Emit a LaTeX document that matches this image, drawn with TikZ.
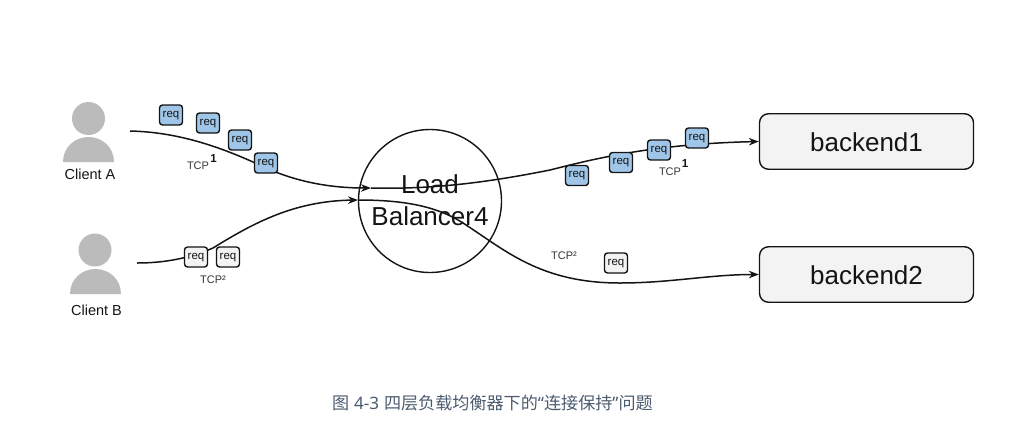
\documentclass[tikz,border=0pt]{standalone}
\usepackage{fontspec}
\setmainfont{Liberation Sans}
\newfontfamily\cjk{Noto Sans CJK SC}
\newfontfamily\capl{Noto Sans}
\usetikzlibrary{arrows.meta}
\definecolor{reqblue}{HTML}{9FC5E8}
\definecolor{boxgray}{HTML}{F3F3F3}
\definecolor{person}{HTML}{BBBBBB}
\definecolor{ink}{HTML}{141414}
\definecolor{capcol}{HTML}{4C5B70}
\tikzset{
 reqbox/.style={draw=ink,line width=1.4pt,rounded corners=3pt,minimum width=23pt,minimum height=20pt,inner sep=0pt,text height=6.5pt,text depth=2.5pt,font=\fontsize{11.5}{12}\selectfont,text=ink},
 reqa/.style={reqbox,fill=reqblue},
 reqb/.style={reqbox,fill=boxgray},
 backend/.style={draw=ink,line width=1.4pt,fill=boxgray,rounded corners=9pt,minimum width=214pt,minimum height=55.5pt,inner sep=0pt,text height=19pt,text depth=0pt,font=\fontsize{26}{28}\selectfont,text=ink},
 label/.style={inner sep=0pt,text=ink,font=\fontsize{14.5}{16}\selectfont},
 tcp/.style={inner sep=0pt,text=ink!85,font=\fontsize{11}{13}\selectfont},
 link/.style={draw=ink,line width=1.5pt,-{Stealth[length=10pt,width=7.5pt]}},
}
\begin{document}
\begin{tikzpicture}[x=1pt,y=-1pt]
\useasboundingbox (0,0) rectangle (1024,424);
% clients
\fill[person] (88.5,118.5) circle (16.5);
\fill[person] (63,162) .. controls (63,147) and (75,137) .. (88.5,137) .. controls (102,137) and (114,147) .. (114,162) -- cycle;
\node[label] (ca) at (90,174) {Client A};
\fill[person] (95,250) circle (16.5);
\fill[person] (70,294) .. controls (70,279) and (82,269) .. (95.5,269) .. controls (109,269) and (121,279) .. (121,294) -- cycle;
\node[label] (cb) at (96.5,310.5) {Client B};
% balancer and backends
\node[draw=ink,line width=1.4pt,circle,minimum size=143pt,inner sep=0pt] (lb) at (430,201) {};
\node[inner sep=0pt,font=\fontsize{26}{28}\selectfont,text=ink] (lbt1) at (430,184.5) {Load};
\node[inner sep=0pt,font=\fontsize{26}{28}\selectfont,text=ink] (lbt2) at (430,216.5) {Balancer4};
\node[backend] (b1) at (866.5,141.5) {backend1};
\node[backend] (b2) at (866.5,274.5) {backend2};
% connector ends
\coordinate (aout) at (130,131);
\coordinate (bout) at (137,263);
\coordinate (lba) at (371,188);
\coordinate (lbb) at (358,200);
% connectors
\draw[link] (aout) .. controls (175,132) and (215,145) .. (253,162) .. controls (285,178) and (320,188) .. (lba);
\draw[link] (bout) .. controls (165,263) and (190,258) .. (213,248) .. controls (255,222) and (295,201) .. (lbb);
\draw[link] (lba) .. controls (420,189) and (470,186) .. (550,170) .. controls (590,160) and (650,144) .. (b1.west);
\draw[link] (lbb) .. controls (400,200) and (435,205) .. (463,223) .. controls (505,250) and (540,283) .. (620,283) .. controls (670,283) and (710,274.5) .. (b2.west);
% requests
\node[reqa] (r1) at (171,115) {req};
\node[reqa] (r2) at (208,123) {req};
\node[reqa] (r3) at (240,140) {req};
\node[reqa] (r4) at (266,163) {req};
\node[reqb] (g1) at (196,257) {req};
\node[reqb] (g2) at (228,257) {req};
\node[reqa] (r5) at (577,175.5) {req};
\node[reqa] (r6) at (621,162.5) {req};
\node[reqa] (r7) at (659,150) {req};
\node[reqa] (r8) at (697,138) {req};
\node[reqb] (g3) at (616,263) {req};
% tcp labels
\node[tcp] (t1) at (198,166) {TCP};
\node[inner sep=0pt,font=\bfseries\fontsize{11.5}{13}\selectfont,text=ink] (s1) at (213.5,158.5) {1};
\node[tcp] (t2) at (213,279.5) {TCP²};
\node[tcp] (t3) at (670,172) {TCP};
\node[inner sep=0pt,font=\bfseries\fontsize{11.5}{13}\selectfont,text=ink] (s3) at (685,164) {1};
\node[tcp] (t4) at (564,256) {TCP²};
% caption
\node[inner sep=0pt,text=capcol,font=\fontsize{17.1}{20}\selectfont] (cap) at (492.5,403) {\cjk 图\hspace{1pt} {\capl 4-3}\hspace{1pt} 四层负载均衡器下的{\capl “}连接保持{\capl ”}问题};
\end{tikzpicture}
\end{document}
